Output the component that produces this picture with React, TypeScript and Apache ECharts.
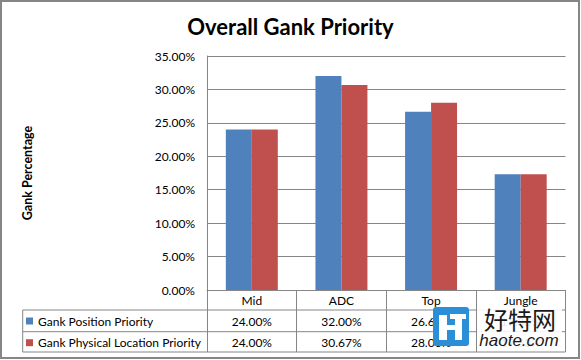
import React, { useEffect, useRef } from "react";
import * as echarts from "echarts";

const categories = ["Mid", "ADC", "Top", "Jungle"];
const positionPriority = [24.0, 32.0, 26.67, 17.33];
const physicalPriority = [24.0, 30.67, 28.0, 17.33];
const seriesNames = ["Gank Position Priority", "Gank Physical Location Priority"];
const yMax = 35;
const yStep = 5;

const FONT = "Lato, 'Open Sans', sans-serif";
const GRID_LEFT = 207;
const GRID_TOP = 56;
const GRID_W = 358.5;
const GRID_H = 234;
const LINE = "#868686";

const fmt = (v: number) => v.toFixed(2) + "%";

const labelStyle = { fontFamily: FONT, fontSize: 12, color: "#000", lineHeight: 14 };

export default function App() {
  const ref = useRef<HTMLDivElement>(null);
  useEffect(() => {
    if (!ref.current) return;
    const chart = echarts.init(ref.current, null, { renderer: "svg" });
    const tableBottom = 352;
    const r1 = 310;
    const r2 = 331.7;
    const tableLeft = 22.7;
    const right = GRID_LEFT + GRID_W;
    const hiddenAxis = {
      type: "category",
      data: categories,
      position: "bottom",
      axisLine: { show: false },
      axisTick: { show: false },
      splitLine: { show: false },
    };
    chart.setOption({
      animation: false,
      backgroundColor: "#fff",
      title: {
        text: "Overall Gank Priority",
        left: "center",
        top: 10,
        textStyle: { fontFamily: FONT, fontSize: 22, fontWeight: "bold", color: "#000" },
      },
      legend: {
        orient: "vertical",
        left: 26,
        top: 314,
        padding: 0,
        itemWidth: 7,
        itemHeight: 7,
        itemGap: 7.7,
        icon: "rect",
        selectedMode: false,
        data: seriesNames,
        textStyle: { fontFamily: FONT, fontSize: 12, color: "#000", lineHeight: 14 },
      },
      grid: { left: GRID_LEFT, top: GRID_TOP, width: GRID_W, height: GRID_H, containLabel: false },
      xAxis: [
        {
          type: "category",
          data: categories,
          axisLine: { show: true, lineStyle: { color: LINE, width: 1 } },
          axisTick: { show: true, length: tableBottom - 290, lineStyle: { color: LINE, width: 1 } },
          axisLabel: { ...labelStyle, margin: 3, interval: 0 },
        },
        {
          ...hiddenAxis,
          axisLabel: {
            ...labelStyle,
            margin: 24,
            interval: 0,
            formatter: (_v: string, i: number) => fmt(positionPriority[i]),
          },
        },
        {
          ...hiddenAxis,
          axisLabel: {
            ...labelStyle,
            margin: 45,
            interval: 0,
            formatter: (_v: string, i: number) => fmt(physicalPriority[i]),
          },
        },
      ],
      yAxis: {
        type: "value",
        min: 0,
        max: yMax,
        interval: yStep,
        name: "Gank Percentage",
        nameLocation: "middle",
        nameRotate: 90,
        nameGap: 173,
        nameTextStyle: { fontFamily: FONT, fontSize: 12.5, fontWeight: "bold", color: "#000" },
        axisLine: { show: true, lineStyle: { color: LINE, width: 1 } },
        axisTick: { show: false },
        splitLine: { show: true, lineStyle: { color: LINE, width: 1 } },
        axisLabel: {
          margin: 12,
          fontFamily: FONT,
          fontSize: 12,
          color: "#000",
          formatter: (v: number) => fmt(v),
        },
      },
      series: [
        {
          name: seriesNames[0],
          type: "bar",
          xAxisIndex: 0,
          data: positionPriority,
          itemStyle: { color: "#4F81BD" },
          barGap: "0%",
          barCategoryGap: "42%",
        },
        {
          name: seriesNames[1],
          type: "bar",
          xAxisIndex: 0,
          data: physicalPriority,
          itemStyle: { color: "#C0504D" },
          barGap: "0%",
          barCategoryGap: "42%",
        },
      ],
      graphic: [
        {
          type: "rect",
          shape: { x: 1, y: 1, width: 578, height: 357 },
          style: { fill: "none", stroke: LINE, lineWidth: 2 },
          silent: true,
        },
        { type: "line", shape: { x1: tableLeft, y1: r1, x2: right, y2: r1 }, style: { stroke: LINE, lineWidth: 1 } },
        { type: "line", shape: { x1: tableLeft, y1: r2, x2: right, y2: r2 }, style: { stroke: LINE, lineWidth: 1 } },
        { type: "line", shape: { x1: tableLeft, y1: tableBottom, x2: right, y2: tableBottom }, style: { stroke: LINE, lineWidth: 1 } },
        { type: "line", shape: { x1: tableLeft, y1: r1, x2: tableLeft, y2: tableBottom }, style: { stroke: LINE, lineWidth: 1 } },
        // watermark
        {
          type: "rect",
          z: 100,
          shape: { x: 477, y: 307, width: 85, height: 43 },
          style: { fill: "rgba(255,255,255,0.9)" },
        },
        {
          type: "rect",
          z: 101,
          shape: { x: 433, y: 307, width: 36, height: 39, r: 3 },
          style: { fill: "#2A8FD6" },
        },
        { type: "rect", z: 102, shape: { x: 439, y: 315, width: 8, height: 25 }, style: { fill: "#fff" } },
        { type: "rect", z: 102, shape: { x: 447, y: 325, width: 9, height: 5 }, style: { fill: "#fff" } },
        { type: "rect", z: 102, shape: { x: 455, y: 318, width: 7, height: 22 }, style: { fill: "#fff" } },
        { type: "rect", z: 102, shape: { x: 450, y: 314, width: 16, height: 5 }, style: { fill: "#fff" } },
        {
          type: "text",
          z: 102,
          x: 520,
          y: 318,
          style: {
            text: "好特网",
            fontFamily: "'Noto Sans CJK SC'",
            fontSize: 24,
            fill: "#1a1a1a",
            align: "center",
            verticalAlign: "middle",
          },
        },
        {
          type: "text",
          z: 102,
          x: 519,
          y: 340.5,
          style: {
            text: "haote.com",
            fontFamily: "'Liberation Sans', Arial, sans-serif",
            fontStyle: "italic",
            fontSize: 17,
            fill: "#1a1a1a",
            align: "center",
            verticalAlign: "middle",
          },
        },
      ],
    });
    return () => chart.dispose();
  }, []);
  return (
    <div
      ref={ref}
      style={{ position: "fixed", left: 0, top: 0, width: 581, height: 360, background: "#fff" }}
    />
  );
}
